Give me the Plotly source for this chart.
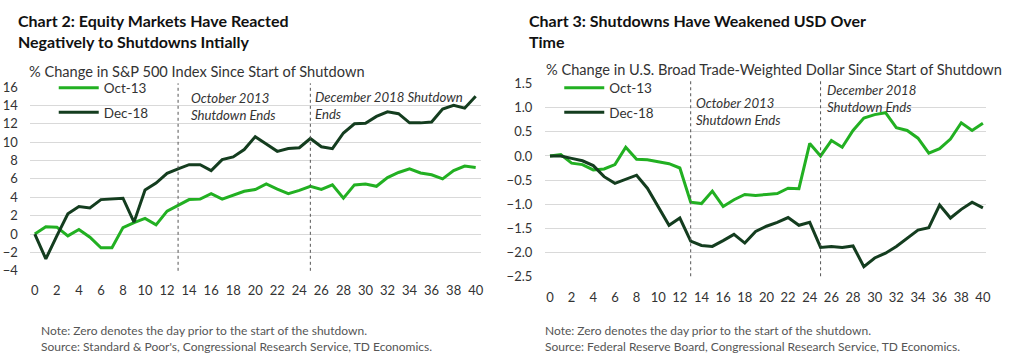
import plotly.graph_objects as go

days = list(range(41))

# Chart 2: % change in S&P 500 since start of shutdown
spx_oct13 = [0, 0.8, 0.75, -0.2, 0.5, -0.35, -1.5, -1.5, 0.7, 1.25, 1.7,
             1.0, 2.5, 3.1, 3.75, 3.8, 4.4, 3.8, 4.2, 4.65, 4.85,
             5.45, 4.9, 4.4, 4.75, 5.2, 4.85, 5.35, 3.9, 5.35, 5.45,
             5.2, 6.15, 6.7, 7.1, 6.65, 6.45, 6.0, 6.9, 7.4, 7.25]
spx_dec18 = [0, -2.7, -0.2, 2.2, 3.0, 2.85, 3.75, 3.8, 3.9, 1.3, 4.8,
             5.55, 6.6, 7.1, 7.55, 7.55, 6.9, 8.1, 8.4, 9.2, 10.6,
             9.8, 9.0, 9.3, 9.4, 10.4, 9.5, 9.3, 11.0, 12.0, 12.05,
             12.8, 13.3, 13.1, 12.1, 12.1, 12.2, 13.6, 14.0, 13.7, 15.0]

# Chart 3: % change in broad trade-weighted USD since start of shutdown
usd_oct13 = [0, 0.03, -0.15, -0.18, -0.29, -0.27, -0.18, 0.18, -0.07, -0.08, -0.12,
             -0.16, -0.25, -0.96, -0.99, -0.73, -1.05, -0.91, -0.80, -0.82, -0.80,
             -0.78, -0.67, -0.68, 0.26, 0.0, 0.32, 0.18, 0.53, 0.79, 0.86,
             0.90, 0.59, 0.53, 0.37, 0.06, 0.15, 0.35, 0.69, 0.53, 0.68]
usd_dec18 = [0, 0.0, -0.05, -0.10, -0.2, -0.43, -0.57, -0.49, -0.40, -0.67, -1.06,
             -1.44, -1.29, -1.77, -1.86, -1.88, -1.76, -1.63, -1.81, -1.57, -1.46,
             -1.38, -1.28, -1.44, -1.38, -1.90, -1.88, -1.90, -1.87, -2.30, -2.12,
             -2.02, -1.88, -1.71, -1.54, -1.49, -1.02, -1.29, -1.11, -0.96, -1.08]

shutdown_end_2013 = 13
shutdown_end_2018 = 25

LIGHT = "#22b022"
DARK = "#143d1f"
FONT = "Lato"
TXT = "#333333"

fig = go.Figure()

fig.add_trace(go.Scatter(x=days, y=spx_oct13, mode="lines", name="Oct-13",
                         line=dict(color=LIGHT, width=3), xaxis="x", yaxis="y",
                         legend="legend", legendgroup="a"))
fig.add_trace(go.Scatter(x=days, y=spx_dec18, mode="lines", name="Dec-18",
                         line=dict(color=DARK, width=3), xaxis="x", yaxis="y",
                         legend="legend", legendgroup="b"))
fig.add_trace(go.Scatter(x=days, y=usd_oct13, mode="lines", name="Oct-13",
                         line=dict(color=LIGHT, width=3), xaxis="x2", yaxis="y2",
                         legend="legend2", legendgroup="c"))
fig.add_trace(go.Scatter(x=days, y=usd_dec18, mode="lines", name="Dec-18",
                         line=dict(color=DARK, width=3), xaxis="x2", yaxis="y2",
                         legend="legend2", legendgroup="d"))

W, H = 1024, 361
def px(x):
    return x / W
def py(y):
    return 1 - y / H

axis_common = dict(showline=False, zeroline=False, ticks="",
                   tickfont=dict(family=FONT, size=13, color=TXT))

fig.update_layout(
    width=W, height=H, margin=dict(l=0, r=0, t=0, b=0),
    paper_bgcolor="white", plot_bgcolor="white",
    font=dict(family=FONT, color=TXT),
    xaxis=dict(domain=[px(30), px(483)], range=[-0.45, 40.45], tickmode="array",
               tickvals=list(range(0, 41, 2)), showgrid=False, anchor="y",
               ticklabelstandoff=10, **axis_common),
    yaxis=dict(domain=[py(275), py(82.7)], range=[-4, 16], tickmode="array",
               tickvals=list(range(-4, 17, 2)), showgrid=True, gridcolor="#d9d9d9",
               gridwidth=1, anchor="x", ticklabelstandoff=11, **axis_common),
    xaxis2=dict(domain=[px(548), px(991)], range=[-0.43, 40.3], tickmode="array",
                tickvals=list(range(0, 41, 2)), showgrid=False, anchor="y2",
                ticklabelstandoff=12, **axis_common),
    yaxis2=dict(domain=[py(280.7), py(79.3)], range=[-2.5, 1.5], tickmode="array",
                tickvals=[-2.5, -2.0, -1.5, -1.0, -0.5, 0.0, 0.5, 1.0, 1.5],
                tickformat=".1f", showgrid=True, gridcolor="#d9d9d9", gridwidth=1,
                anchor="x2", ticklabelstandoff=12, **axis_common),
    legend=dict(x=px(54), y=py(67.5), xanchor="left", yanchor="top",
                bgcolor="rgba(0,0,0,0)", font=dict(family=FONT, size=13.5, color=TXT),
                traceorder="grouped", tracegroupgap=4, itemwidth=40),
    legend2=dict(x=px(562), y=py(67.5), xanchor="left", yanchor="top",
                 bgcolor="rgba(0,0,0,0)", font=dict(family=FONT, size=13.5, color=TXT),
                 traceorder="grouped", tracegroupgap=4, itemwidth=40),
    showlegend=True,
)

# Vertical dotted lines for shutdown ends
for xr, yr in [("x", "y"), ("x2", "y2")]:
    for d in (shutdown_end_2013, shutdown_end_2018):
        fig.add_shape(type="line", xref=xr, yref=f"{yr} domain", x0=d, x1=d, y0=0, y1=1.02,
                      line=dict(color="#555555", width=1, dash="dot"))

def text(x, y, s, font, xref="paper", xshift=0):
    fig.add_annotation(xref=xref, yref="paper", x=x, y=py(y), text=s, showarrow=False,
                       xanchor="left", yanchor="top", align="left", font=font,
                       xshift=xshift)

ann_font = dict(family=FONT, size=13.2, color=TXT)
text(shutdown_end_2013, 83.7, "<i>October 2013<br>Shutdown Ends</i>", ann_font, "x", 11)
text(shutdown_end_2018, 82.4, "<i>December 2018 Shutdown<br>Ends</i>", ann_font, "x", 3)
text(shutdown_end_2013, 88.7, "<i>October 2013<br>Shutdown Ends</i>", ann_font, "x2", 3)
text(shutdown_end_2018, 75.7, "<i>December 2018<br>Shutdown Ends</i>", ann_font, "x2", 4)

# Titles
title_font = dict(family=FONT, size=16, color="#111111")
text(px(16), 1, "<b>Chart 2: Equity Markets Have Reacted<br>Negatively to Shutdowns Intially</b>", title_font)
text(px(530), 1, "<b>Chart 3: Shutdowns Have Weakened USD Over<br>Time</b>", title_font)

# Subtitles
sub_font = dict(family=FONT, size=14.6, color=TXT)
text(px(27), 55.8, "% Change in S&P 500 Index Since Start of Shutdown", sub_font)
text(px(547), 53.8, "% Change in U.S. Broad Trade-Weighted Dollar Since Start of Shutdown", sub_font)

# Notes
note_font = dict(family=FONT, size=12, color="#555555")
text(px(39), 327.4, "Note: Zero denotes the day prior to the start of the shutdown.<br>"
                    "Source: Standard & Poor's, Congressional Research Service, TD Economics.", note_font)
text(px(546), 327.4, "Note: Zero denotes the day prior to the start of the shutdown.<br>"
                     "Source: Federal Reserve Board, Congressional Research Service, TD Economics.", note_font)

fig.write_html("out.html", config={"displayModeBar": False},
               post_script="document.body.style.margin='0';document.body.style.overflow='hidden';")
